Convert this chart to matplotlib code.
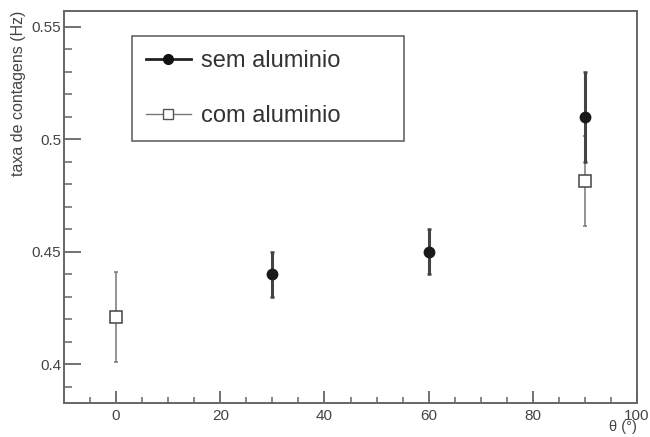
import numpy as np
import matplotlib.pyplot as plt
from matplotlib.lines import Line2D
from matplotlib.ticker import MultipleLocator

plt.rcParams['font.family'] = ['Liberation Sans', 'DejaVu Sans']

# sem aluminio
theta_sem = np.array([30, 60, 90])
taxa_sem = np.array([0.440, 0.450, 0.510])
err_sem = np.array([0.010, 0.010, 0.020])

# com aluminio
theta_com = np.array([0, 90])
taxa_com = np.array([0.421, 0.4815])
err_com = np.array([0.020, 0.020])

fig = plt.figure(figsize=(6.5, 4.37), dpi=100)
ax = fig.add_axes([64/650, 1 - 403/437, 573/650, 392/437])

ax.errorbar(theta_com, taxa_com, yerr=err_com, fmt="s", color="#777777",
            mfc="white", mec="#444444", ms=8, mew=1.1, elinewidth=1.1,
            capsize=1.5, capthick=1.1, zorder=2)
ax.errorbar(theta_sem, taxa_sem, yerr=err_sem, fmt="o", color="#444444",
            mfc="#1a1a1a", mec="#1a1a1a", ms=7.5, elinewidth=2.2,
            capsize=1.5, capthick=1.8, zorder=3)

ax.set_xlim(-10, 100)
ax.set_ylim(0.3828, 0.557)
ax.xaxis.set_major_locator(MultipleLocator(20))
ax.xaxis.set_minor_locator(MultipleLocator(5))
ax.yaxis.set_major_locator(MultipleLocator(0.05))
ax.yaxis.set_minor_locator(MultipleLocator(0.01))
ax.yaxis.set_major_formatter(plt.FuncFormatter(lambda v, p: f"{v:g}"))

gray = "#666666"
for s in ax.spines.values():
    s.set_color(gray)
    s.set_linewidth(1.4)
ax.tick_params(which="both", direction="in", colors=gray, labelcolor="#444444",
               labelsize=11, top=False, right=False)
ax.tick_params(axis="y", which="major", length=12, width=1.3, pad=2)
ax.tick_params(axis="y", which="minor", length=6, width=1.1)
ax.tick_params(axis="x", which="major", length=8.5, width=1.3, pad=4)
ax.tick_params(axis="x", which="minor", length=4.5, width=1.1)

ax.set_xlabel("θ (°)", loc="right", fontsize=10.5, color="#444444", labelpad=-2)
ax.set_ylabel("taxa de contagens (Hz)", loc="top", fontsize=11.5,
              color="#444444", labelpad=4)

handles = [
    Line2D([], [], color="#222222", lw=2, marker="o", ms=7, mfc="#111111",
           mec="#111111"),
    Line2D([], [], color="#777777", lw=1, marker="s", ms=7, mfc="white",
           mec="#555555"),
]
leg = ax.legend(handles, ["sem aluminio", "com aluminio"], loc="upper left",
                bbox_to_anchor=(0.119, 0.673, 0.474, 0.263), mode="expand",
                borderaxespad=0, fontsize=17, handlelength=1.9,
                handletextpad=0.45, labelspacing=1.42, borderpad=0.58,
                fancybox=False, framealpha=1, edgecolor=gray)
leg.get_frame().set_linewidth(1.2)
for t in leg.get_texts():
    t.set_color("#333333")

fig.savefig("out.png", dpi=100)
